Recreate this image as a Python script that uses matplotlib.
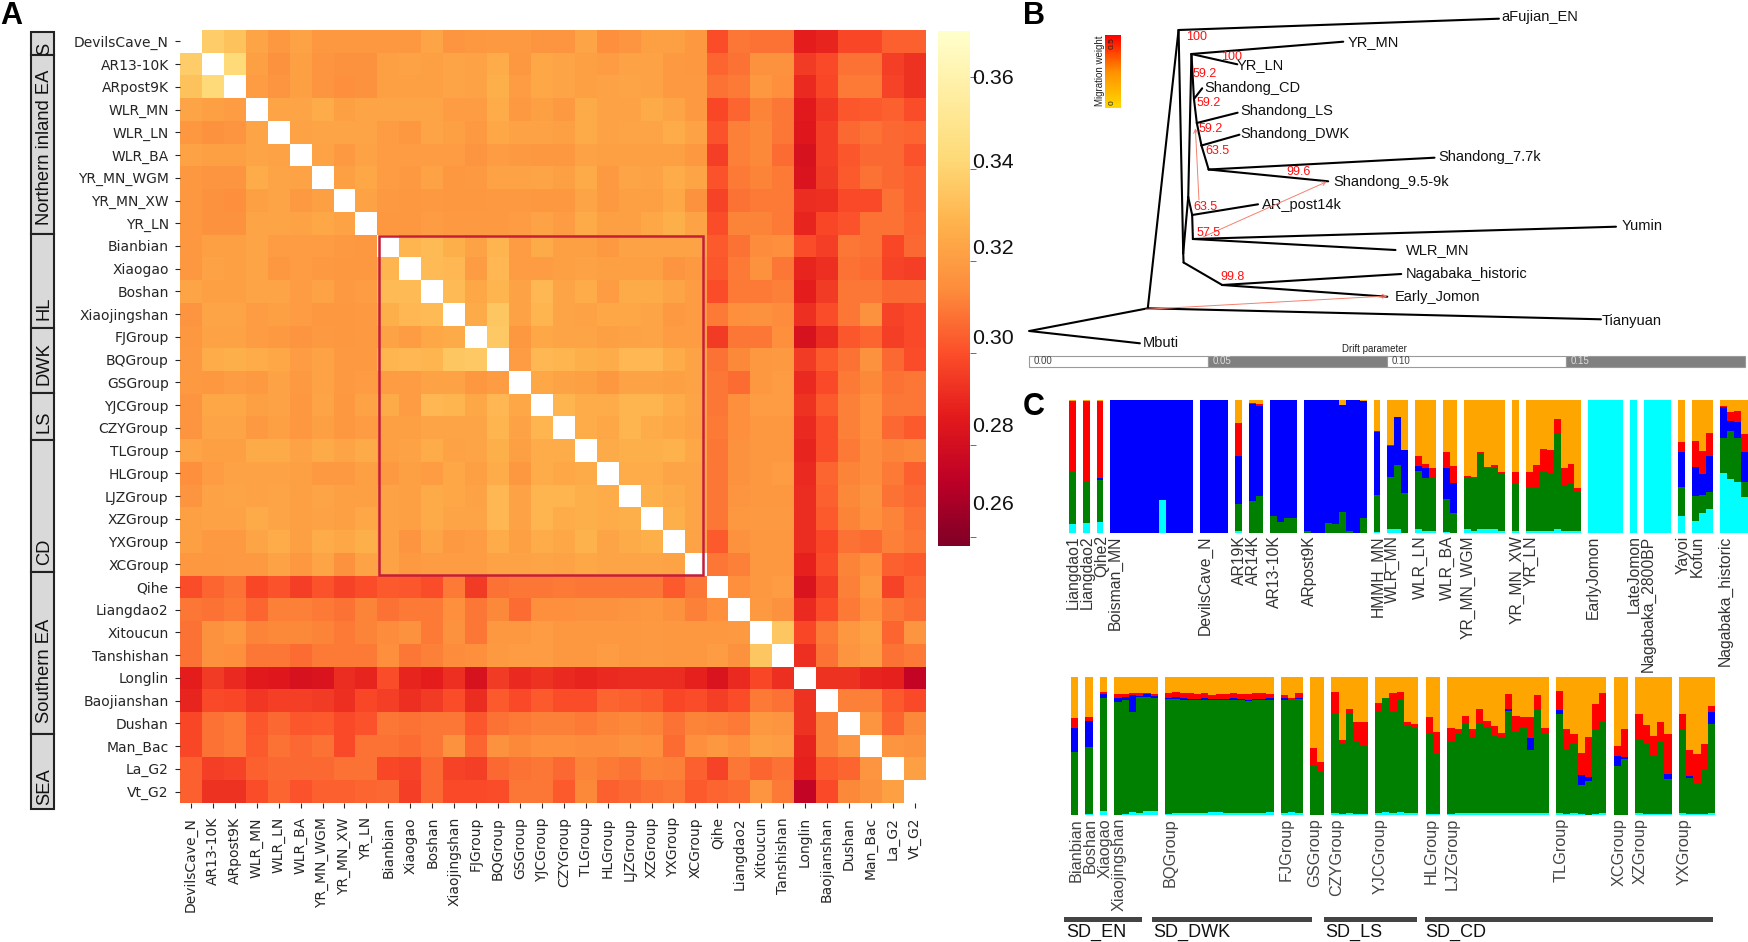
import numpy as np
import matplotlib
matplotlib.use("Agg")
import matplotlib.pyplot as plt
from matplotlib.colors import LinearSegmentedColormap
from matplotlib.patches import Rectangle

W, H = 1749, 942
plt.rcParams['font.family'] = ['Liberation Sans', 'DejaVu Sans']

# ---------- Panel A data ----------
POPS = ["DevilsCave_N","AR13-10K","ARpost9K","WLR_MN","WLR_LN","WLR_BA","YR_MN_WGM","YR_MN_XW","YR_LN",
        "Bianbian","Xiaogao","Boshan","Xiaojingshan","FJGroup","BQGroup","GSGroup","YJCGroup","CZYGroup",
        "TLGroup","HLGroup","LJZGroup","XZGroup","YXGroup","XCGroup","Qihe","Liangdao2","Xitoucun",
        "Tanshishan","Longlin","Baojianshan","Dushan","Man_Bac","La_G2","Vt_G2"]
# upper triangle of the f3 matrix, in thousandths, row i holds columns i+1 ... 33
F3_UPPER = [
 [338,334,323,318,322,318,318,318,318,318,323,317,318,319,319,317,317,323,315,317,321,321,318,300,309,308,308,287,289,298,298,304,304],
 [343,321,316,321,317,316,316,321,322,321,323,322,326,318,324,323,321,320,322,322,319,318,305,308,316,316,295,299,308,308,296,293],
 [320,317,321,317,315,316,321,321,321,323,322,327,320,324,323,321,322,323,322,319,319,308,310,318,315,290,298,310,310,297,293],
 [323,323,326,321,323,323,323,323,320,320,326,319,321,319,325,322,322,325,323,319,298,305,312,309,286,294,302,303,304,300],
 [322,323,323,323,320,318,323,321,319,324,322,322,321,325,322,323,323,326,322,301,311,313,309,285,296,306,308,306,305],
 [322,319,322,320,320,320,320,317,320,319,318,318,322,321,321,321,321,318,296,311,313,307,282,296,302,306,306,301],
 [321,324,320,319,322,318,319,322,322,323,321,325,319,323,322,326,323,301,310,312,310,283,295,303,308,306,304],
 [322,319,318,319,318,318,319,319,318,318,323,319,321,321,324,316,297,308,310,310,291,292,299,299,308,304],
 [318,318,320,319,319,319,320,322,320,325,321,321,324,327,322,300,312,312,310,289,298,301,308,308,305],
 [329,331,327,322,329,320,325,321,321,319,322,322,322,322,303,308,314,315,300,296,309,308,298,306],
 [331,330,320,330,320,320,321,322,321,321,321,317,319,302,310,316,309,289,292,308,307,297,296],
 [331,324,329,322,330,323,326,320,325,325,323,320,300,310,310,311,287,295,309,309,306,306],
 [325,335,322,329,323,322,324,324,323,319,320,310,315,316,314,292,300,309,316,297,299],
 [336,318,324,323,323,321,322,323,320,320,295,309,309,315,282,291,302,305,296,299],
 [320,330,329,327,326,330,330,326,322,308,313,318,319,295,303,308,316,306,300],
 [324,322,321,318,322,322,321,322,309,307,318,320,290,299,310,313,308,309],
 [329,326,326,329,329,326,323,309,315,320,320,293,303,311,315,309,309],
 [326,324,329,326,324,322,310,315,318,318,290,300,311,315,306,303],
 [325,327,327,328,324,309,316,318,318,289,300,310,314,312,313],
 [326,326,323,323,309,316,318,320,290,305,312,314,310,304],
 [327,325,323,309,317,318,318,291,304,313,316,308,306],
 [327,323,309,318,319,319,291,303,312,315,312,308],
 [322,303,316,318,318,291,298,308,307,311,309],
 [309,311,318,318,288,300,312,315,304,303],
 [315,318,320,283,296,311,318,297,305],
 [319,316,290,300,310,315,309,307],
 [335,298,310,318,321,305,317],
 [292,308,317,320,308,310],
 [293,293,289,288,275],
 [311,311,303,299],
 [317,305,313],
 [317,316],
 [321],
 [],
]
CBAR_TICKS = [0.26, 0.28, 0.30, 0.32, 0.34, 0.36]
VMIN, VMAX = 0.258, 0.370
STRIPS = [("S",32,55,55), ("Northern inland EA",55,234,225), ("HL",234,328,320), ("DWK",328,393,385),
          ("LS",393,440,433), ("CD",440,572,565), ("Southern EA",572,734,723), ("SEA",734,809,805)]

# ---------- Panel B data ----------
NODES = {
 "root":(0.0,331.0),"n1":(.0331,308.3),"A":(.0417,30.0),"B":(.0431,262.5),"F":(.0444,197.0),"E":(.0430,253.3),
 "D":(.0453,54.0),"C1":(.0460,99.0),"C2":(.0468,123.0),"C3":(.0481,145.5),"C4":(.0501,169.5),
 "H":(.0455,215.0),"G":(.0457,239.0),"J":(.0539,285.0),
 "Mbuti":(.0309,343.3),"Tianyuan":(.1597,319.3),"aFujian_EN":(.1312,18.7),"YR_MN":(.0877,41.7),
 "YR_LN":(.0581,64.3),"Shandong_CD":(.0483,88.3),"Shandong_LS":(.0582,112.7),"Shandong_DWK":(.0587,134.7),
 "Shandong_7.7k":(.1132,157.7),"Shandong_9.5-9k":(.0835,181.3),"AR_post14k":(.0639,204.3),
 "Yumin":(.1639,226.7),"WLR_MN":(.1023,250.0),"Nagabaka_historic":(.1039,274.0),"Early_Jomon":(.1000,296.7)}
EDGES = [("root","n1"),("root","Mbuti"),("n1","A"),("n1","Tianyuan"),("A","aFujian_EN"),("A","E"),("E","B"),
         ("E","F"),("F","D"),("F","H"),("H","G"),("H","AR_post14k"),("G","Yumin"),("G","WLR_MN"),
         ("D","YR_MN"),("D","YR_LN"),("D","C1"),("C1","C2"),("C2","C3"),("C3","C4"),("C1","Shandong_CD"),
         ("C2","Shandong_LS"),("C3","Shandong_DWK"),("C4","Shandong_7.7k"),("C4","Shandong_9.5-9k"),
         ("B","J"),("J","Nagabaka_historic"),("J","Early_Jomon")]
TIP_LABELS = [("aFujian_EN",.1320,16.7),("YR_MN",.0888,41.7),("YR_LN",.0578,65.5),("Shandong_CD",.0488,87.8),
              ("Shandong_LS",.0590,111.5),("Shandong_DWK",.0590,133.8),("Shandong_7.7k",.1143,157.5),
              ("Shandong_9.5-9k",.0849,181.8),("AR_post14k",.0650,204.5),("Yumin",.1654,225.8),("WLR_MN",.1052,250.5),
              ("Nagabaka_historic",.1052,274.2),("Early_Jomon",.1020,297.2),("Tianyuan",.1600,320.5),("Mbuti",.0318,342.8)]
BOOT_LABELS = [("100",.0438,37.3),("100",.0535,57.3),("59.2",.0455,74),("59.2",.0468,102.7),("59.2",.0473,128.7),
               ("63.5",.0492,151.3),("99.6",.0718,172),("63.5",.0457,207.3),("57.5",.0468,232.7),("99.8",.0535,277)]
MIGRATIONS = [((.0474,200.0),(.0464,128.3)),((.0487,236.7),(.0831,181.7)),((.0325,309.3),(.1000,296.0))]
DRIFT_TICKS = [0.0,0.05,0.10,0.15]
DRIFT_COLORS = ["white","#808080","white","#808080"]

# ---------- Panel C data (cumulative percentages per sample) ----------
TOP_GROUPS = ["Liangdao1","Liangdao2","Qihe2","Boisman_MN","DevilsCave_N","AR19K","AR14K","AR13-10K","ARpost9K",
              "HMMH_MN","WLR_MN","WLR_LN","WLR_BA","YR_MN_WGM","YR_MN_XW","YR_LN","EarlyJomon","LateJomon",
              "Nagabaka_2800BP","Yayoi","Kofun","Nagabaka_historic"]
TOP_COUNTS = [1,1,1,12,4,1,2,4,9,1,3,3,2,6,1,8,5,1,4,1,3,4]
TOP_CYAN = [6.5,7.3,8, 0,0,0,0,0,0,0,24.6,0,0,0,0, 0,0,0,0, 1.5, 0,0, 0,0,0,0, 0,0,0,0,0,0,0,0,0, .8,
            2.5,2.5,0, 2.5,1.5,1.5, .8,0, 2.5,1.5,3,2.5,2.5,1.5, 1.5, 1.5,1.5,1.5,1.5,2.5,1.5,1.5,1.5,
            100,100,100,100,100,100,100,100,100,100, 12.3, 8.8,14.6,18.1, 44.7,40.5,38.4,26.6]
TOP_GREEN = [46.7,39,39.7, 0,0,0,0,0,0,0,24.6,0,0,0,0, 0,0,0,0, 21.6, 23.6,27.4, 12.3,8,10.8,10.8,
             1.5,0,0,7.3,6.5,15.8,1.5,0,10.8, 28.4, 42,51,29.7, 46.2,41,41, 25.4,14.6,
             42,41,59.3,48.5,49,44.7, 36.7, 34.7,33.4,46.7,44.7,74.9,36,36.7,30.9,
             100,100,100,100,100,100,100,100,100,100, 34.7, 27.4,28.1,30.4, 71.1,76.9,71.1,38.4]
TOP_BLUE = [46.7,39,41.2, 100,100,100,100,100,100,100,100,100,100,100,100, 100,100,100,100, 58, 97,95.7,
            100,100,100,100, 100,100,100,100,100,96.2,100,100,99.5, 76.1, 65.3,87,62, 50.3,48.5,41, 48.8,37.7,
            42,41,59.3,48.5,49,44.7, 36.7, 34.7,33.4,46.7,44.7,74.9,36,36.7,30.9,
            100,100,100,100,100,100,100,100,100,100, 61, 49.8,44,57.5, 94.7,84.2,83.7,61]
TOP_RED = [99.5,99.5,99.5, 100,100,100,100,100,100,100,100,100,100,100,100, 100,100,100,100, 82.7, 97.5,96.8,
           100,100,100,100, 100,100,100,100,100,96.2,100,100,99.5, 76.6, 66.1,87.2,62.6, 57.5,51.8,48.8, 61,50.3,
           42.7,42,60.6,49.8,51.3,45.5, 45.5, 45.5,51,63.3,62,85.7,48.5,51.8,33.4,
           100,100,100,100,100,100,100,100,100,100, 68.4, 69.1,61.8,75.4, 95.7,90.7,91.7,74.6]

BOT_GROUPS = ["Bianbian","Boshan","Xiaogao","Xiaojingshan","BQGroup","FJGroup","GSGroup","CZYGroup","YJCGroup",
              "HLGroup","LJZGroup","TLGroup","XCGroup","XZGroup","YXGroup"]
BOT_COUNTS = [1,1,1,6,15,3,2,5,6,2,14,7,2,5,5]
BOT_CYAN = [0,.7,2.9, 0,.5,2.4,1.7,3.1,2.9,
            1,1.2,1.4,1.4,1.4,1.4,2.2,2.2,1.4,1.2,1.2,1.2,1.2,1.2,2.2,
            1.2,1.9,1.2, 0,0, 1.2,.7,1.2,.7,.7, 1.2,2,1.2,2,1.2,1.2, .7,.7,
            .5,1.2,1.2,1.2,1.2,1.2,1.2,1.2,1.2,1.2,1.2,1.2,1.2,1.2,
            1.2,.7,1.2,.5,0,.7,1.2, 0,0, 1.2,.5,.5,.5,.5, 1.2,.5,.5,.7,1.2]
BOT_GREEN = [45.8,49.4,84.3, 81.9,83.1,74.7,85.1,85.1,84.8,
             83.6,83.9,83.4,82.9,83.1,83.4,83.1,83.4,83.4,83.4,83.4,82.7,82.9,83.4,83.4,
             83.4,83.6,83.9, 35.4,31.1, 74,51.3,73,52.5,49.9, 74.2,84.8,75.4,83.1,64.6,62.7, 59.5,44.1,
             53.7,58.6,65.8,56.2,66.8,63.6,57.1,56.4,75.4,61,63.6,47,76.6,59.5,
             73,47.7,51.3,21.7,24.6,61.2,68, 35.4,40.5, 54,51.8,42.7,52.5,26.3, 62.2,26.5,23.4,32.3,65.8]
BOT_BLUE = [62.7,68.2,87.5, 84.3,85.6,86.8,86.3,87.2,86.3,
            84.3,85.1,84.3,83.6,84.1,84.3,83.6,83.9,84.1,84.3,84.1,83.4,83.6,84.1,84.3,
            84.3,83.6,84.3, 35.4,31.1, 74,51.3,73,52.5,49.9, 74.2,84.8,75.4,83.1,64.6,62.7, 59.5,44.1,
            53.7,58.6,65.8,56.2,66.8,63.6,57.1,56.4,76.4,61,63.6,55.9,76.6,59.5,
            76.2,47.7,51.3,28.9,27.7,61.2,68, 42.7,41.7, 54,51.8,42.7,52.5,29.6, 62.2,28.4,23.4,32.3,74.5]
BOT_RED = [70.4,71.1,89.2, 87.5,87.2,88.4,88,88,87.7,
           88,88.9,88.4,88,87.5,88,86.8,87.2,87.7,88.2,87.5,87.5,88,88.4,87.5,
           86.8,84.3,88.4, 48.4,38.1, 89.2,54.2,76.9,67,67.5, 81.2,84.8,88.4,89.2,67.5,65.8, 71.1,60,
           62.9,62.4,71.8,62.4,76.9,68,64.6,59.5,87.5,71.8,70.6,71.1,86.8,63.1,
           89.9,62.2,58.3,44.6,56.6,80.3,88.4, 49.9,62.4, 73,65.1,56.9,67.2,58.6, 73,47,43.9,51.6,79]
SD_BARS = [("SD_EN",1064,1142,1066.5),("SD_DWK",1152.5,1312,1153),("SD_LS",1324.5,1417.5,1325.5),("SD_CD",1425,1712.7,1425)]
COMP_COLORS = ["#00ffff","#008000","#0000ff","#ff0000","#ffa500"]

# ---------- helpers ----------
fig = plt.figure(figsize=(W/100, H/100), dpi=100, facecolor="white")

def px_axes(x0, y0, x1, y1, **kw):
    return fig.add_axes([x0/W, 1-y1/H, (x1-x0)/W, (y1-y0)/H], **kw)

# ---------- Panel A ----------
n = len(POPS)
M = np.full((n, n), np.nan)
for i, row in enumerate(F3_UPPER):
    for k, v in enumerate(row):
        M[i, i+1+k] = M[i+1+k, i] = v/1000
cmap = plt.get_cmap("YlOrRd_r").copy()
cmap.set_bad("white")
ax = px_axes(180, 30, 925.7, 803)
im = ax.imshow(M, cmap=cmap, vmin=VMIN, vmax=VMAX, aspect="auto", interpolation="nearest",
               extent=(0, n, n, 0))
for s in ax.spines.values():
    s.set_visible(False)
ticks = np.arange(n)+0.5
ax.set_xticks(ticks)
ax.set_xticklabels(POPS, rotation=90, family="DejaVu Sans", fontsize=10, color="#262626")
ax.set_yticks(ticks)
ax.set_yticklabels(POPS, family="DejaVu Sans", fontsize=10, color="#262626")
ax.tick_params(axis="y", length=3.6, width=0.8, color="#262626", pad=4.5)
ax.tick_params(axis="x", length=3.6, width=0.8, color="#262626", pad=6.5)
ax.add_patch(Rectangle((9.06, 9.07), 14.78, 14.9, fill=False, ec="#c41e3a", lw=1.8, zorder=5))

cax = px_axes(938, 31, 970, 546)
cb = fig.colorbar(im, cax=cax)
cb.outline.set_visible(False)
cb.set_ticks(CBAR_TICKS)
cb.set_ticklabels([])
cax.tick_params(length=4, width=0.6, color="#555555")

# overlay in pixel coordinates
ov = fig.add_axes([0, 0, 1, 1], zorder=20)
ov.set_xlim(0, W)
ov.set_ylim(H, 0)
ov.axis("off")
ov.patch.set_alpha(0)
for tick_txt, y in zip(["0.36","0.34","0.32","0.30","0.28","0.26"], [79,163,248,338,427,505]):
    ov.text(972, y, tick_txt, fontsize=15.4, va="center", ha="left", color="#111111")
for name, y0, y1, ytxt in STRIPS:
    ov.add_patch(Rectangle((31, y0), 23, y1-y0, fc="#d9d9d9", ec="#222222", lw=1.5))
    ov.text(44.5, ytxt, name, rotation=90, ha="center", va="bottom", fontsize=13.2, color="#111111")
for letter, x, y in [("A",0,24),("B",1023,24),("C",1023,415)]:
    ov.text(x, y, letter, fontsize=22, fontweight="bold", ha="left", va="baseline", color="black")

# ---------- Panel B ----------
tx = px_axes(1029.3, 0, 1745.2, 380)
tx.set_xlim(0, 0.2)
tx.set_ylim(380, 0)
tx.axis("off")
tx.patch.set_alpha(0)
for a, b in EDGES:
    (x0, y0), (x1, y1) = NODES[a], NODES[b]
    tx.plot([x0, x1], [y0, y1], color="black", lw=1.5, solid_capstyle="round", clip_on=False)
for name, x, y in TIP_LABELS:
    tx.text(x, y, name, fontsize=10.5, va="center", ha="left", color="#111111")
for t, x, y in BOOT_LABELS:
    tx.text(x, y, t, fontsize=9, va="center", ha="left", color="#ff1010", zorder=6)
for start, end in MIGRATIONS:
    tx.annotate("", xy=end, xytext=start,
                arrowprops=dict(arrowstyle="->", color="#f4806e", lw=0.7, shrinkA=0, shrinkB=0, mutation_scale=7))
for t, c in zip(DRIFT_TICKS, DRIFT_COLORS):
    tx.add_patch(Rectangle((t, 355.5), 0.05, 11.5, fc=c, ec="#9a9a9a", lw=0.8, clip_on=False))
    tx.text(t+0.0012, 361.5, f"{t:.2f}", fontsize=7, va="center", ha="left",
            color="#444444" if c == "white" else "#dddddd")
tx.text(0.0965, 349, "Drift parameter", fontsize=7, ha="center", va="center", color="#222222")

grad = LinearSegmentedColormap.from_list("mig", ["#ffd800", "#ff9000", "#ff0000"])
gx = px_axes(1104.6, 35, 1120, 107.7)
gx.imshow(np.linspace(1, 0, 64).reshape(-1, 1), cmap=grad, aspect="auto")
gx.axis("off")
ov.text(1100, 71, "Migration weight", rotation=90, fontsize=7, ha="center", va="center", color="#222222")
ov.text(1112, 43, "0.5", rotation=90, fontsize=6, ha="center", va="center", color="#222222")
ov.text(1112, 103, "0", rotation=90, fontsize=6, ha="center", va="center", color="#222222")

# ---------- Panel C ----------
def admix(box, groups, counts, cum, fontsize, pad, color):
    a = px_axes(*box)
    slots = []
    starts = []
    s = 0
    for c in counts:
        starts.append(s + 0.7)
        slots.extend(s + i + 0.5 for i in range(c))
        s += c + 1
    total = s - 1
    slots = np.array(slots)
    tops = [np.array(v, float) for v in cum] + [np.full(len(slots), 100.0)]
    bottom = np.zeros(len(slots))
    for top, col in zip(tops, COMP_COLORS):
        a.bar(slots, top-bottom, bottom=bottom, width=1.0, color=col, lw=0)
        bottom = top
    a.set_xlim(0, total)
    a.set_ylim(0, 100)
    for sp in a.spines.values():
        sp.set_visible(False)
    a.set_yticks([])
    a.set_xticks(starts)
    a.set_xticklabels(groups, rotation=90, fontsize=fontsize, color=color)
    a.tick_params(axis="x", length=0, pad=pad)
    return a

admix((1068.8, 400, 1747.6, 532.7), TOP_GROUPS, TOP_COUNTS, (TOP_CYAN, TOP_GREEN, TOP_BLUE, TOP_RED), 11.3, 2.0, "#333333")
admix((1071, 676.7, 1715, 815), BOT_GROUPS, BOT_COUNTS, (BOT_CYAN, BOT_GREEN, BOT_BLUE, BOT_RED), 11.7, 2.2, "#444444")
for name, x0, x1, xt in SD_BARS:
    ov.add_patch(Rectangle((x0, 917), x1-x0, 5, fc="#444444", ec="none"))
    ov.text(xt, 932, name, fontsize=13, ha="left", va="center", color="#111111")

fig.savefig("out.png", dpi=100)
